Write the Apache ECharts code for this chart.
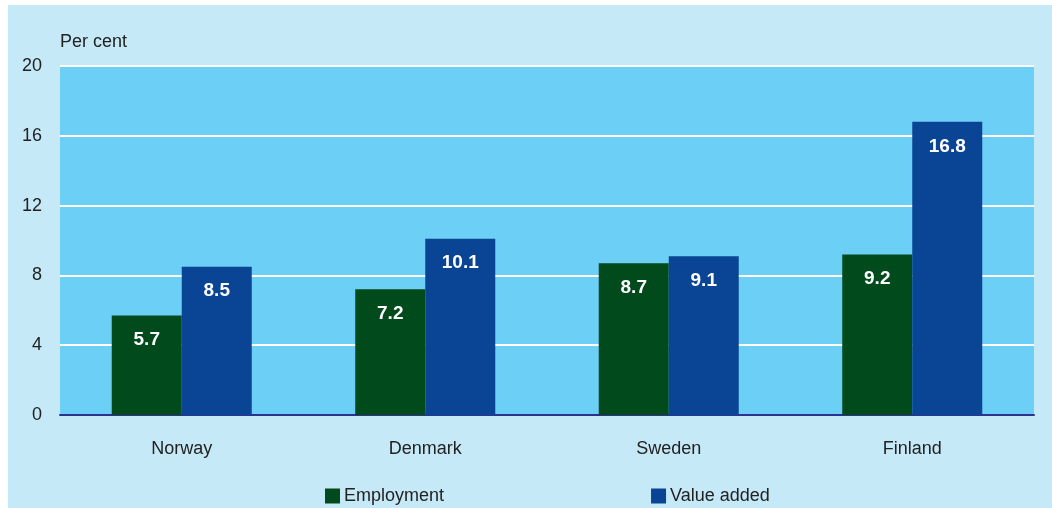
<!DOCTYPE html>
<html><head><meta charset="utf-8">
<script src="https://cdn.jsdelivr.net/npm/echarts@6/dist/echarts.min.js"></script>
<style>
html,body{margin:0;padding:0;background:#ffffff;width:1052px;height:508px;overflow:hidden;}
#c{position:absolute;left:8px;top:5px;width:1044px;height:503px;}
</style></head>
<body><div id="c"></div>
<script>
const categories = ['Norway','Denmark','Sweden','Finland'];
const employment = [5.7, 7.2, 8.7, 9.2];
const valueAdded = [8.5, 10.1, 9.1, 16.8];
const yTicks = [0, 4, 8, 12, 16, 20];

const FONT = 'Liberation Sans';
const chart = echarts.init(document.getElementById('c'));
const label = {show:true, position:'insideTop', distance:15, color:'#ffffff', fontWeight:'bold', fontSize:19, fontFamily:FONT, formatter: p => p.value.toFixed(1)};
chart.setOption({
  backgroundColor:'#c6e9f8',
  animation:false,
  title:{text:'Per cent', left:47, top:23, textStyle:{fontSize:18, fontWeight:'normal', color:'#222', fontFamily:FONT}},
  legend:{left:312, top:477, itemWidth:15, itemHeight:15, itemGap:207, icon:'rect',
    textStyle:{fontSize:18, color:'#222', fontFamily:FONT, padding:[0,0,0,-1]},
    data:['Employment','Value added']},
  grid:{left:52, right:18, top:61, bottom:93, show:true, backgroundColor:'#6ccff5', borderWidth:0},
  xAxis:{type:'category', data:categories,
    axisLine:{lineStyle:{color:'#2e3192', width:2}}, axisTick:{show:false},
    axisLabel:{fontSize:18, color:'#222', fontFamily:FONT, margin:25}},
  yAxis:{type:'value', min:yTicks[0], max:yTicks[yTicks.length-1], interval:4,
    axisLine:{show:false}, axisTick:{show:false},
    splitLine:{lineStyle:{color:'#ffffff', width:2}},
    axisLabel:{fontSize:18, color:'#222', fontFamily:FONT, margin:18}},
  series:[
    {name:'Employment', type:'bar', data:employment, itemStyle:{color:'#004a1b'}, barGap:'0%', barCategoryGap:'42.5%', label:label},
    {name:'Value added', type:'bar', data:valueAdded, itemStyle:{color:'#0a4494'}, label:label}
  ]
});
</script></body></html>
